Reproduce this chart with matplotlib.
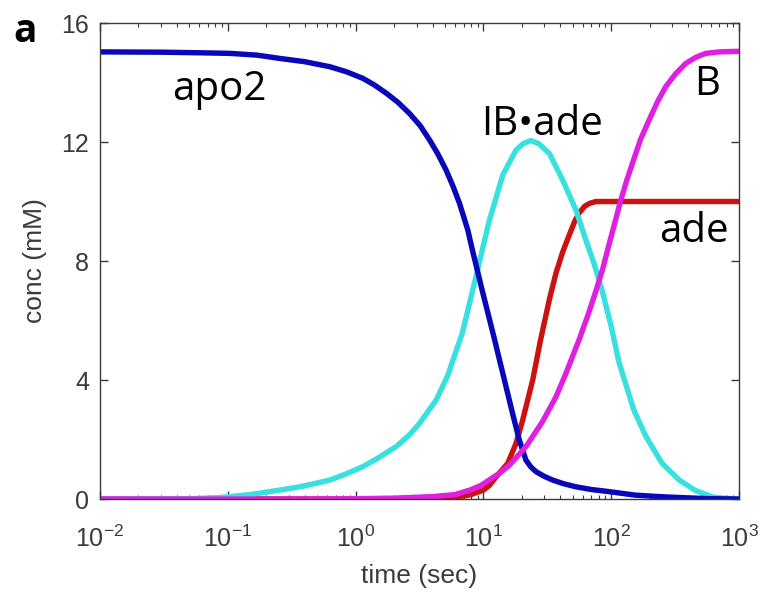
import numpy as np
import matplotlib.pyplot as plt
from matplotlib.ticker import LogLocator, NullFormatter

# values, time in sec, conc in mM
t_apo2 = [0.01, 0.03, 0.06, 0.104, 0.17, 0.255, 0.4, 0.63, 0.85, 1.14, 1.4,
          1.74, 2.15, 2.64, 3.2, 3.79, 4.4, 5.1, 5.8, 6.5, 7.55, 8.2, 9.8,
          12, 14.6, 16.9, 19.1, 21.5, 23.5, 25.8, 30, 34.7, 42, 53, 70, 95.6,
          155, 220, 300, 450, 600, 1000]
apo2 = [15.03, 15.02, 15.0, 14.98, 14.92, 14.81, 14.7, 14.53, 14.36, 14.14,
        13.92, 13.64, 13.33, 12.96, 12.55, 12.07, 11.6, 11.06, 10.5, 9.94,
        9.04, 8.37, 7.0, 5.5, 4.0, 2.88, 1.98, 1.31, 1.08, 0.92, 0.76, 0.64,
        0.52, 0.41, 0.32, 0.25, 0.13, 0.09, 0.06, 0.03, 0.01, 0.0]

t_ib_ade = [0.01, 0.05, 0.087, 0.15, 0.255, 0.365, 0.48, 0.63, 0.85, 1.14,
            1.5, 2.07, 2.6, 3.16, 4.27, 5.26, 6.86, 9.0, 11.1, 14.2, 18,
            20.5, 23.5, 27, 32.8, 41.7, 53, 63.4, 73.6, 85, 100, 115, 150,
            187, 250, 340, 450, 617, 800, 1000]
ib_ade = [0.0, 0.01, 0.05, 0.15, 0.3, 0.41, 0.52, 0.64, 0.85, 1.09, 1.38,
          1.76, 2.13, 2.54, 3.33, 4.15, 5.6, 7.7, 9.35, 10.9, 11.73, 11.95,
          12.05, 11.95, 11.62, 10.72, 9.71, 8.7, 7.9, 7.0, 5.8, 4.6, 3.0,
          2.1, 1.2, 0.64, 0.3, 0.07, 0.02, 0.0]

t_ade = [0.01, 1, 2, 3, 5, 7, 8, 10, 11.1, 12.6, 14, 15.5, 18, 20.3, 24.3,
         28, 33, 37, 41.7, 47, 52, 56.2, 62, 68, 76, 90, 120, 1000]
ade = [0.0, 0.0, 0.005, 0.01, 0.04, 0.1, 0.15, 0.3, 0.45, 0.75, 0.98, 1.2,
       1.87, 2.66, 4.0, 5.35, 6.75, 7.6, 8.3, 8.88, 9.35, 9.62, 9.84, 9.94,
       10.0, 10.0, 10.0, 10.0]

t_B = [0.01, 0.5, 1, 2, 4, 6, 7.8, 9.5, 11.1, 13.5, 16, 21.5, 29, 37, 44, 56,
       66, 76, 86, 96, 107, 118, 132, 147, 170, 198, 230, 267, 320, 383, 460,
       550, 700, 1000]
B = [0.0, 0.0, 0.01, 0.03, 0.08, 0.15, 0.3, 0.45, 0.64, 0.88, 1.14, 1.76,
     2.6, 3.44, 4.2, 5.35, 6.2, 7.0, 7.75, 8.55, 9.3, 10.0, 10.7, 11.3, 12.1,
     12.74, 13.35, 13.86, 14.3, 14.64, 14.85, 14.98, 15.03, 15.05]

yticks = [0, 4, 8, 12, 16]

gray = '#3a3a3a'
plt.rcParams['font.family'] = ['Liberation Sans', 'DejaVu Sans']
plt.rcParams['mathtext.fontset'] = 'custom'
plt.rcParams['mathtext.rm'] = 'Liberation Sans'
plt.rcParams['mathtext.it'] = 'Liberation Sans:italic'

fig = plt.figure(figsize=(7.64, 5.95), dpi=100)
ax = fig.add_axes([0.1309, 0.1613, 0.9673 - 0.1309, 0.9613 - 0.1613])

lw = 3.9
ax.plot(t_ade, ade, color='#cc1111', lw=lw, solid_joinstyle='round')
ax.plot(t_ib_ade, ib_ade, color='#38e0e0', lw=lw, solid_joinstyle='round')
ax.plot(t_apo2, apo2, color='#0808b8', lw=lw, solid_joinstyle='round')
ax.plot(t_B, B, color='#e020e0', lw=lw, solid_joinstyle='round')

ax.set_xscale('log')
ax.set_xlim(1e-2, 1e3)
ax.set_ylim(0, 16)
ax.set_yticks(yticks)
ax.xaxis.set_major_locator(LogLocator(base=10, numticks=10))
ax.xaxis.set_minor_locator(LogLocator(base=10, subs=np.arange(2, 10), numticks=20))
ax.xaxis.set_minor_formatter(NullFormatter())

for s in ax.spines.values():
    s.set_color(gray)
    s.set_linewidth(1.0)
ax.tick_params(which='both', direction='in', top=True, right=True,
               colors=gray, labelsize=18)
ax.tick_params(which='major', length=6, width=1.0)
ax.tick_params(which='minor', length=3, width=0.8)
ax.tick_params(axis='x', which='major', pad=19)
ax.tick_params(axis='y', which='major', pad=8)

ax.set_xlabel('time (sec)', fontsize=19, color=gray, labelpad=9)
ax.set_ylabel('conc (mM)', fontsize=19, color=gray, labelpad=10)

lab = dict(fontsize=29, color='black', family=['Open Sans', 'DejaVu Sans'])
ax.text(0.037, 13.4, 'apo2', ha='left', va='baseline', **lab)
ax.text(9.6, 12.24, 'IB\u2022ade', ha='left', va='baseline', **lab)
ax.text(445, 13.58, 'B', ha='left', va='baseline', **lab)
ax.text(237, 8.64, 'ade', ha='left', va='baseline', **lab)

fig.text(13 / 764, 1 - 42 / 595, 'a', fontsize=28, fontweight='bold',
         family=['Open Sans', 'DejaVu Sans'], ha='left', va='baseline')

fig.savefig('out.png', dpi=100)
